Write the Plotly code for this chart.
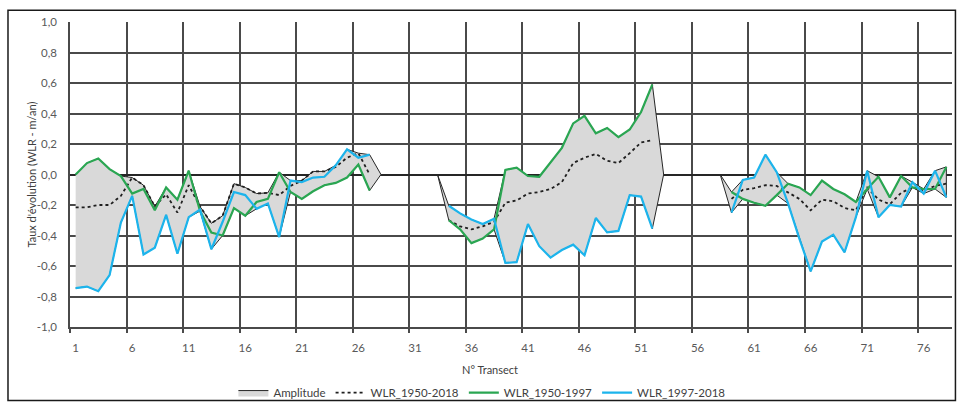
import plotly.graph_objects as go

# Transect numbers along the coast
transects = list(range(1, 79))

# Shoreline change rates (WLR, m/an); None = transect without data
wlr_1950_2018 = [
    -0.215, -0.215, -0.20, -0.20, -0.14, -0.02, -0.07, -0.21, -0.13, -0.25,
    -0.07, -0.21, -0.32, -0.27, -0.06, -0.085, -0.125, -0.12, -0.135, -0.075,
    -0.04, 0.02, 0.02, 0.05, 0.11, 0.14, 0.0,
    None, None, None, None, None, None,
    -0.30, -0.34, -0.36, -0.34, -0.31, -0.185, -0.17, -0.125, -0.115, -0.095,
    -0.05, 0.075, 0.11, 0.135, 0.09, 0.075, 0.14, 0.21, 0.225,
    None, None, None, None, None, None,
    -0.16, -0.10, -0.09, -0.07, -0.075, -0.115, -0.16, -0.235, -0.165, -0.175,
    -0.22, -0.235, -0.085, -0.165, -0.195, -0.12, -0.085, -0.105, -0.075, -0.06,
]

wlr_1950_1997 = [
    0.0, 0.075, 0.105, 0.035, -0.01, -0.125, -0.095, -0.235, -0.085, -0.165,
    0.025, -0.24, -0.38, -0.40, -0.22, -0.27, -0.18, -0.16, 0.015, -0.115,
    -0.16, -0.11, -0.07, -0.055, -0.02, 0.065, -0.105,
    None, None, None, None, None, None,
    -0.30, -0.36, -0.45, -0.42, -0.36, 0.03, 0.045, -0.01, -0.015, 0.08,
    0.175, 0.335, 0.385, 0.27, 0.305, 0.245, 0.295, 0.41, 0.59,
    None, None, None, None, None, None,
    -0.115, -0.16, -0.185, -0.205, -0.135, -0.06, -0.085, -0.135, -0.04, -0.095,
    -0.13, -0.18, -0.095, -0.015, -0.15, -0.01, -0.085, -0.095, -0.095, 0.05,
]

wlr_1997_2018 = [
    -0.745, -0.735, -0.765, -0.66, -0.315, -0.14, -0.525, -0.48, -0.265, -0.52,
    -0.28, -0.23, -0.49, -0.31, -0.115, -0.135, -0.225, -0.19, -0.41, -0.04,
    -0.05, -0.02, -0.015, 0.06, 0.165, 0.11, 0.13,
    None, None, None, None, None, None,
    -0.205, -0.255, -0.295, -0.325, -0.29, -0.58, -0.575, -0.325, -0.47, -0.545,
    -0.495, -0.46, -0.53, -0.285, -0.38, -0.37, -0.135, -0.145, -0.355,
    None, None, None, None, None, None,
    -0.25, -0.035, -0.02, 0.13, 0.015, -0.19, -0.42, -0.635, -0.44, -0.395,
    -0.51, -0.28, 0.025, -0.28, -0.20, -0.21, -0.05, -0.125, 0.025, -0.15,
]

x_tick_vals = list(range(1, 79, 5))
x_tick_text = [str(v) for v in x_tick_vals]
y_tick_vals = [-1.0, -0.8, -0.6, -0.4, -0.2, 0.0, 0.2, 0.4, 0.6, 0.8, 1.0]
y_tick_text = ["-1,0", "-0,8", "-0,6", "-0,4", "-0,2", "0,0", "0,2", "0,4", "0,6", "0,8", "1,0"]

# Amplitude envelope: max / min of the three series (blank transects count as 0)
upper, lower = [], []
for a, b, c in zip(wlr_1950_2018, wlr_1950_1997, wlr_1997_2018):
    vals = [v for v in (a, b, c) if v is not None]
    upper.append(max(vals) if vals else 0.0)
    lower.append(min(vals) if vals else 0.0)

FONT = "Lato, Calibri, Carlito, sans-serif"
GRID = "#4a4a4a"
TXT = "#595959"

fig = go.Figure()

fig.add_trace(go.Scatter(
    x=transects + transects[::-1],
    y=upper + lower[::-1],
    fill="toself",
    fillcolor="#d9d9d9",
    line=dict(color="#262626", width=1),
    mode="lines",
    name="Amplitude",
    hoverinfo="skip",
))
fig.add_trace(go.Scatter(
    x=transects, y=wlr_1950_2018, mode="lines", name="WLR_1950-2018",
    line=dict(color="#1f1f1f", width=1.8, dash="dot"),
))
fig.add_trace(go.Scatter(
    x=transects, y=wlr_1950_1997, mode="lines", name="WLR_1950-1997",
    line=dict(color="#2aa652", width=2.2),
))
fig.add_trace(go.Scatter(
    x=transects, y=wlr_1997_2018, mode="lines", name="WLR_1997-2018",
    line=dict(color="#1cb4ec", width=2.2),
))

fig.update_layout(
    width=957,
    height=412,
    margin=dict(l=70, r=5, t=22, b=79),
    paper_bgcolor="white",
    plot_bgcolor="white",
    font=dict(family=FONT, size=11, color=TXT),
    showlegend=True,
    legend=dict(
        orientation="h",
        x=0.467, xanchor="center",
        y=-0.215, yanchor="middle",
        font=dict(family=FONT, size=11.5, color="#404040"),
        itemwidth=30,
        bgcolor="rgba(0,0,0,0)",
    ),
    xaxis=dict(
        range=[0.5, 78.5],
        tickmode="array",
        tickvals=x_tick_vals,
        ticktext=x_tick_text,
        showgrid=False,
        zeroline=False,
        ticks="outside",
        ticklen=9,
        tickcolor="rgba(0,0,0,0)",
        showline=True,
        linecolor=GRID,
        linewidth=1.5,
        minor=dict(
            tick0=0.5, dtick=5,
            showgrid=True, gridcolor=GRID, gridwidth=1.5,
            ticks="outside", ticklen=4, tickcolor=GRID, tickwidth=1.5,
        ),
        tickfont=dict(family=FONT, size=11.5, color=TXT),
    ),
    yaxis=dict(
        range=[-1.0, 1.0],
        tickmode="array",
        tickvals=y_tick_vals,
        ticktext=y_tick_text,
        showgrid=True,
        gridcolor=GRID,
        gridwidth=1.5,
        zeroline=True,
        zerolinecolor="#262626",
        zerolinewidth=1.8,
        showline=True,
        linecolor=GRID,
        linewidth=1.5,
        ticks="outside",
        ticklen=9,
        tickcolor="rgba(0,0,0,0)",
        tickfont=dict(family=FONT, size=11.5, color=TXT),
    ),
    annotations=[
        dict(
            text="Taux d'évolution (WLR - m/an)",
            xref="paper", yref="paper",
            x=-0.0442, y=0.5,
            xanchor="center", yanchor="middle",
            textangle=-90, showarrow=False,
            font=dict(family=FONT, size=11, color="#404040"),
        ),
        dict(
            text="N° Transect",
            xref="paper", yref="paper",
            x=0.476, y=-0.138,
            xanchor="center", yanchor="middle",
            showarrow=False,
            font=dict(family=FONT, size=11, color="#404040"),
        ),
    ],
    shapes=[
        dict(
            type="rect", xref="paper", yref="paper",
            x0=-0.0703, x1=1.0039, y0=-0.241, y1=1.0386,
            line=dict(color="#1a1a1a", width=1.5),
            fillcolor="rgba(0,0,0,0)",
            layer="below",
        ),
    ],
)

fig.write_html("out.html")
